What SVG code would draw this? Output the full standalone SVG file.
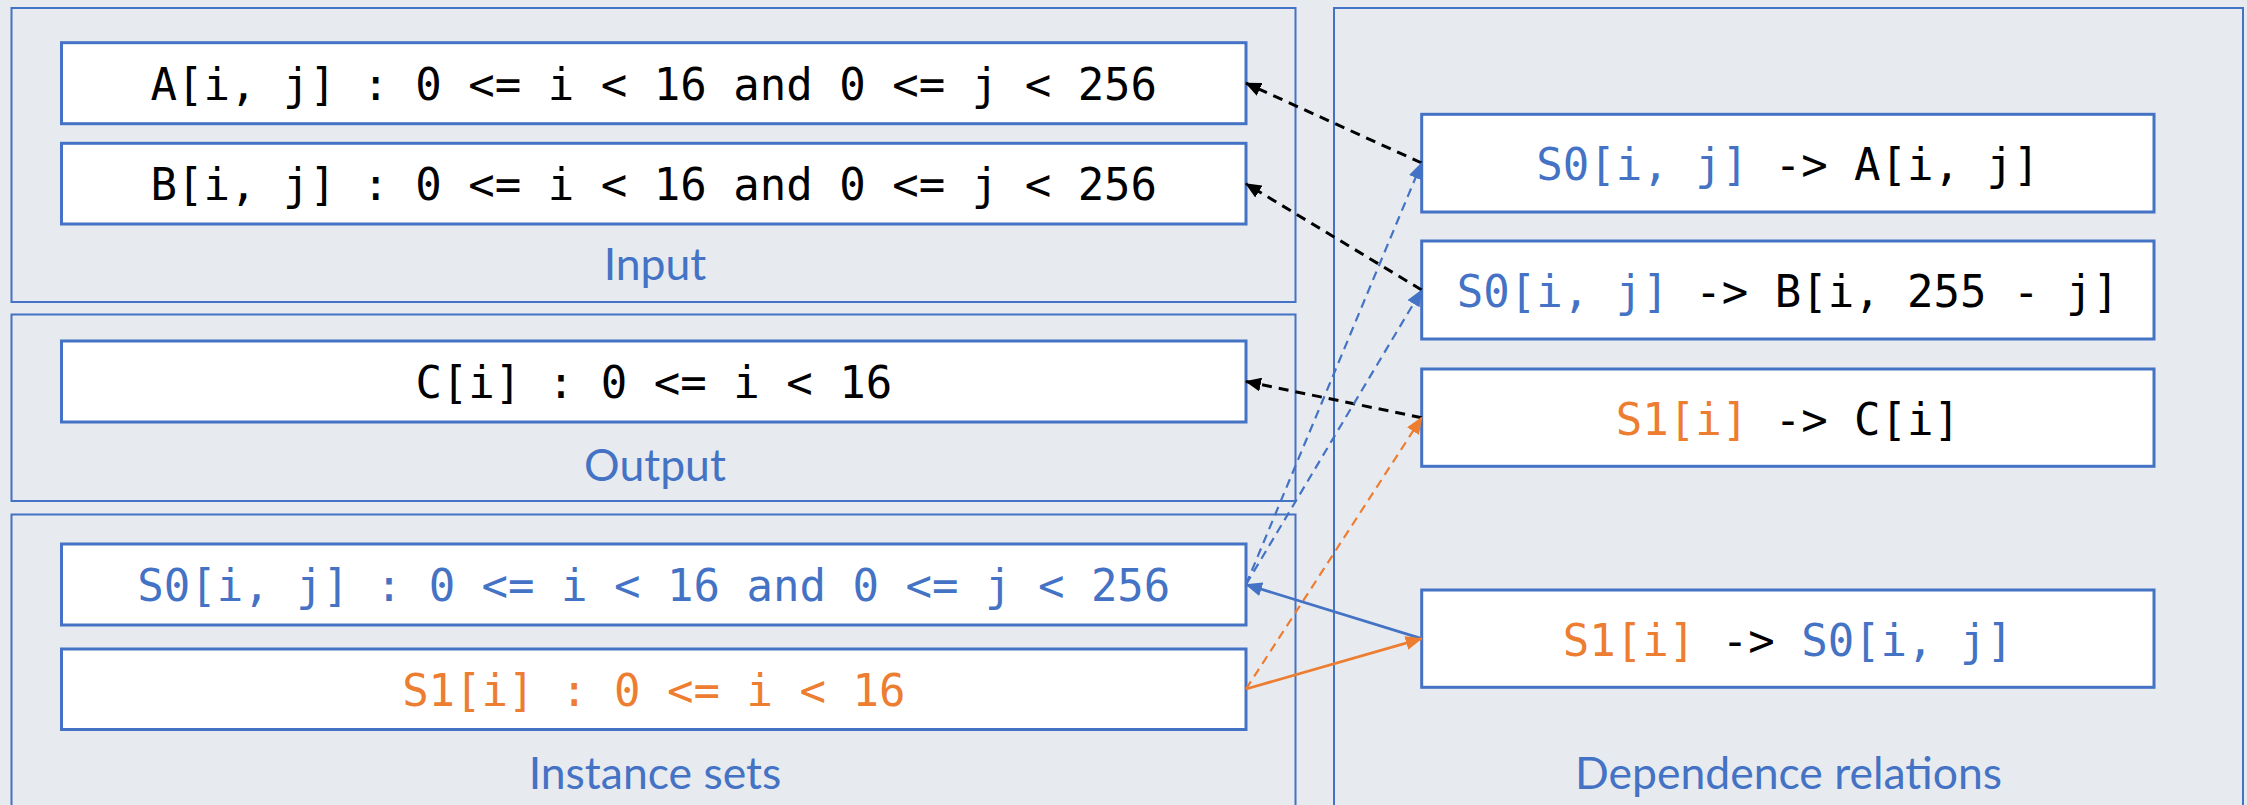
<svg xmlns="http://www.w3.org/2000/svg" width="2247" height="805" viewBox="0 0 2247 805">
  <style>
    .panel { fill: #E7EBEF; stroke: #4472C4; stroke-width: 2; }
    .box { fill: #FFFFFF; stroke: #4472C4; stroke-width: 3; }
    .code { font-family: "DejaVu Sans Mono", "Liberation Mono", monospace; font-size: 44px; text-anchor: middle; fill: #000000; }
    .title { font-family: Lato, "Open Sans", "Liberation Sans", sans-serif; font-size: 44.5px; text-anchor: middle; fill: #4472C4; }
    .blue { fill: #4472C4; }
    .orange { fill: #ED7D31; }
    .dk { fill: #000000; }
    .c-black { stroke: #000000; stroke-width: 3; fill: none; stroke-dasharray: 10 7; }
    .c-blue-d { stroke: #4472C4; stroke-width: 2.2; fill: none; stroke-dasharray: 9 6; }
    .c-orange-d { stroke: #ED7D31; stroke-width: 2.2; fill: none; stroke-dasharray: 9 6; }
    .c-blue { stroke: #4472C4; stroke-width: 2.8; fill: none; }
    .c-orange { stroke: #ED7D31; stroke-width: 2.8; fill: none; }
  </style>
  <defs>
    <marker id="head-black" markerUnits="userSpaceOnUse" viewBox="0 0 16 14" refX="15" refY="7" markerWidth="16" markerHeight="14" orient="auto">
      <path d="M0,0 L16,7 L0,14 z" fill="#000000"/>
    </marker>
    <marker id="head-blue" markerUnits="userSpaceOnUse" viewBox="0 0 17 14" refX="16" refY="7" markerWidth="17" markerHeight="14" orient="auto">
      <path d="M0,0 L17,7 L0,14 z" fill="#4472C4"/>
    </marker>
    <marker id="head-orange" markerUnits="userSpaceOnUse" viewBox="0 0 17 14" refX="16" refY="7" markerWidth="17" markerHeight="14" orient="auto">
      <path d="M0,0 L17,7 L0,14 z" fill="#ED7D31"/>
    </marker>
  </defs>

  <!-- canvas -->
  <rect x="0" y="0" width="2247" height="805" fill="#E7EBEF"/>

  <!-- panels -->
  <g id="panel-input">
    <rect class="panel" x="11.5" y="8" width="1284" height="294"/>
    <text class="title" x="655" y="280">Input</text>
  </g>
  <g id="panel-output">
    <rect class="panel" x="11.5" y="314.5" width="1284" height="186.5"/>
    <text class="title" x="655" y="481">Output</text>
  </g>
  <g id="panel-instances">
    <rect class="panel" x="11.5" y="514.5" width="1284" height="310"/>
    <text class="title" x="655" y="789">Instance sets</text>
  </g>
  <g id="panel-relations">
    <rect class="panel" x="1334" y="8" width="909" height="820"/>
    <text class="title" x="1788.5" y="789">Dependence relations</text>
  </g>

  <!-- array and instance set nodes -->
  <g id="node-A">
    <rect class="box" x="61.5" y="42.7" width="1184.5" height="81"/>
    <text class="code" x="653.8" y="100">A[i, j] : 0 &lt;= i &lt; 16 and 0 &lt;= j &lt; 256</text>
  </g>
  <g id="node-B">
    <rect class="box" x="61.5" y="143.3" width="1184.5" height="80.7"/>
    <text class="code" x="653.8" y="200.3">B[i, j] : 0 &lt;= i &lt; 16 and 0 &lt;= j &lt; 256</text>
  </g>
  <g id="node-C">
    <rect class="box" x="61.5" y="341" width="1184.5" height="81"/>
    <text class="code" x="653.8" y="398.3">C[i] : 0 &lt;= i &lt; 16</text>
  </g>
  <g id="node-S0">
    <rect class="box" x="61.5" y="544" width="1184.5" height="81"/>
    <text class="code blue" x="653.8" y="601.3">S0[i, j] : 0 &lt;= i &lt; 16 and 0 &lt;= j &lt; 256</text>
  </g>
  <g id="node-S1">
    <rect class="box" x="61.5" y="649" width="1184.5" height="80.5"/>
    <text class="code orange" x="653.8" y="706">S1[i] : 0 &lt;= i &lt; 16</text>
  </g>

  <!-- dependence relation nodes -->
  <g id="rel-S0-A">
    <rect class="box" x="1421.7" y="114.3" width="732.3" height="97.7"/>
    <text class="code" x="1787.9" y="180"><tspan class="blue">S0[i, j]</tspan><tspan class="dk"> -&gt; A[i, j]</tspan></text>
  </g>
  <g id="rel-S0-B">
    <rect class="box" x="1421.7" y="241" width="732.3" height="98"/>
    <text class="code" x="1787.9" y="307"><tspan class="blue">S0[i, j]</tspan><tspan class="dk"> -&gt; B[i, 255 - j]</tspan></text>
  </g>
  <g id="rel-S1-C">
    <rect class="box" x="1421.7" y="369" width="732.3" height="97.3"/>
    <text class="code" x="1787.9" y="434.5"><tspan class="orange">S1[i]</tspan><tspan class="dk"> -&gt; C[i]</tspan></text>
  </g>
  <g id="rel-S1-S0">
    <rect class="box" x="1421.7" y="590" width="732.3" height="97.3"/>
    <text class="code" x="1787.9" y="655.5"><tspan class="orange">S1[i]</tspan><tspan class="dk"> -&gt; </tspan><tspan class="blue">S0[i, j]</tspan></text>
  </g>

  <!-- connectors -->
  <g id="connectors">
    <line class="c-black" x1="1421.7" y1="163" x2="1246" y2="83.2" marker-end="url(#head-black)"/>
    <line class="c-black" x1="1421.7" y1="290" x2="1246" y2="183.7" marker-end="url(#head-black)"/>
    <line class="c-black" x1="1421.7" y1="417.7" x2="1246" y2="381.5" marker-end="url(#head-black)"/>
    <line class="c-blue-d" x1="1246" y1="584.5" x2="1421.7" y2="163" marker-end="url(#head-blue)"/>
    <line class="c-blue-d" x1="1246" y1="584.5" x2="1421.7" y2="290" marker-end="url(#head-blue)"/>
    <line class="c-orange-d" x1="1246" y1="689" x2="1421.7" y2="417.7" marker-end="url(#head-orange)"/>
    <line class="c-blue" x1="1421.7" y1="638.6" x2="1246" y2="584.5" marker-end="url(#head-blue)"/>
    <line class="c-orange" x1="1246" y1="689" x2="1421.7" y2="638.6" marker-end="url(#head-orange)"/>
  </g>
</svg>
